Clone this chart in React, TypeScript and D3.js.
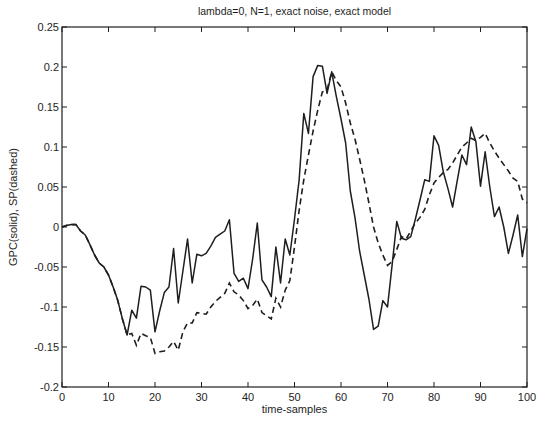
import React, { useEffect, useRef } from "react";
import * as d3 from "d3";

const TITLE = "lambda=0, N=1, exact noise, exact model";
const X_LABEL = "time-samples";
const Y_LABEL = "GPC(solid), SP(dashed)";
const X_TICKS = [0, 10, 20, 30, 40, 50, 60, 70, 80, 90, 100];
const Y_TICKS = [-0.2, -0.15, -0.1, -0.05, 0, 0.05, 0.1, 0.15, 0.2, 0.25];

// GPC output, samples 0..100
const gpc = [
  0.0, 0.002, 0.003, 0.003, -0.005, -0.01, -0.022, -0.035, -0.045, -0.05,
  -0.06, -0.075, -0.092, -0.115, -0.135, -0.104, -0.114, -0.074, -0.075, -0.079,
  -0.131, -0.105, -0.082, -0.075, -0.027, -0.095, -0.055, -0.015, -0.07, -0.034,
  -0.036, -0.033, -0.024, -0.013, -0.009, -0.005, 0.009, -0.058, -0.068, -0.064,
  -0.077, -0.04, 0.005, -0.066, -0.075, -0.087, -0.025, -0.07, -0.015, -0.035,
  0.01, 0.059, 0.142, 0.117, 0.188, 0.202, 0.201, 0.167, 0.194, 0.163,
  0.135, 0.105, 0.045, 0.012, -0.03, -0.06, -0.09, -0.128, -0.124, -0.092,
  -0.1, -0.047, 0.007, -0.014, -0.016, -0.012, 0.01, 0.034, 0.059, 0.057,
  0.114, 0.102, 0.069, 0.048, 0.025, 0.058, 0.09, 0.078, 0.125, 0.107,
  0.051, 0.094, 0.05, 0.013, 0.025, 0.0, -0.033, -0.01, 0.015, -0.037,
  -0.002,
];

// SP output, samples 0..100
const sp = [
  0.0, 0.002, 0.003, 0.003, -0.005, -0.01, -0.022, -0.035, -0.045, -0.05,
  -0.06, -0.075, -0.092, -0.115, -0.135, -0.133, -0.148, -0.133, -0.136, -0.138,
  -0.158, -0.156, -0.155, -0.15, -0.143, -0.154, -0.131, -0.12, -0.12, -0.107,
  -0.108, -0.109, -0.1, -0.093, -0.088, -0.083, -0.07, -0.081, -0.085, -0.092,
  -0.102, -0.098, -0.09, -0.107, -0.111, -0.115, -0.089, -0.1, -0.079, -0.067,
  -0.025, 0.021, 0.059, 0.09, 0.12, 0.146, 0.169, 0.171, 0.194, 0.183,
  0.175, 0.155, 0.13, 0.11, 0.085, 0.059, 0.03, 0.0, -0.02, -0.035,
  -0.048, -0.043, -0.028, -0.012, -0.015, -0.005, 0.005, 0.012, 0.022, 0.04,
  0.055, 0.062, 0.068, 0.072, 0.08, 0.09, 0.1, 0.105, 0.111, 0.108,
  0.112, 0.117, 0.105, 0.095, 0.086, 0.078, 0.07, 0.061, 0.057, 0.035,
  0.03,
];

const W = 540;
const H = 421;
const M = { left: 62, right: 13, top: 27, bottom: 34 };
const INK = "#1e1e1e";
const FONT = "'Liberation Sans', Arial, Helvetica, sans-serif";

export default function App() {
  const ref = useRef<SVGSVGElement | null>(null);

  useEffect(() => {
    const svg = d3.select(ref.current);
    svg.selectAll("*").remove();

    const x = d3.scaleLinear().domain([0, 100]).range([M.left, W - M.right]);
    const y = d3.scaleLinear().domain([-0.2, 0.25]).range([H - M.bottom, M.top]);

    svg.append("rect").attr("width", W).attr("height", H).attr("fill", "#fff");

    const g = svg.append("g");

    // frame
    g.append("rect")
      .attr("x", x(0))
      .attr("y", y(0.25))
      .attr("width", x(100) - x(0))
      .attr("height", y(-0.2) - y(0.25))
      .attr("fill", "none")
      .attr("stroke", INK)
      .attr("stroke-width", 1.2);

    const tl = 5;
    // x ticks (bottom & top, inward)
    X_TICKS.forEach((t) => {
      g.append("line")
        .attr("x1", x(t)).attr("x2", x(t))
        .attr("y1", y(-0.2)).attr("y2", y(-0.2) - tl)
        .attr("stroke", INK).attr("stroke-width", 1);
      g.append("line")
        .attr("x1", x(t)).attr("x2", x(t))
        .attr("y1", y(0.25)).attr("y2", y(0.25) + tl)
        .attr("stroke", INK).attr("stroke-width", 1);
      g.append("text")
        .attr("x", x(t))
        .attr("y", y(-0.2) + 14)
        .attr("text-anchor", "middle")
        .attr("font-family", FONT)
        .attr("font-size", 11)
        .attr("fill", INK)
        .text(String(t));
    });

    // y ticks (left & right, inward)
    Y_TICKS.forEach((v) => {
      g.append("line")
        .attr("x1", x(0)).attr("x2", x(0) + tl)
        .attr("y1", y(v)).attr("y2", y(v))
        .attr("stroke", INK).attr("stroke-width", 1);
      g.append("line")
        .attr("x1", x(100)).attr("x2", x(100) - tl)
        .attr("y1", y(v)).attr("y2", y(v))
        .attr("stroke", INK).attr("stroke-width", 1);
      const lab = d3.format("")(+v.toFixed(2));
      g.append("text")
        .attr("x", x(0) - 3)
        .attr("y", y(v) + 4)
        .attr("text-anchor", "end")
        .attr("font-family", FONT)
        .attr("font-size", 11)
        .attr("fill", INK)
        .text(lab.replace("−", "-"));
    });

    const line = d3
      .line<number>()
      .x((_, i) => x(i))
      .y((d) => y(d));

    g.append("path")
      .datum(sp)
      .attr("d", line)
      .attr("fill", "none")
      .attr("stroke", INK)
      .attr("stroke-width", 1.6)
      .attr("stroke-dasharray", "6,4");

    g.append("path")
      .datum(gpc)
      .attr("d", line)
      .attr("fill", "none")
      .attr("stroke", INK)
      .attr("stroke-width", 1.5)
      .attr("stroke-linejoin", "round");

    // title
    svg.append("text")
      .attr("x", (x(0) + x(100)) / 2)
      .attr("y", 15)
      .attr("text-anchor", "middle")
      .attr("font-family", FONT)
      .attr("font-size", 10.5)
      .attr("fill", INK)
      .text(TITLE);

    // x label
    svg.append("text")
      .attr("x", (x(0) + x(100)) / 2)
      .attr("y", y(-0.2) + 26)
      .attr("text-anchor", "middle")
      .attr("font-family", FONT)
      .attr("font-size", 11)
      .attr("fill", INK)
      .text(X_LABEL);

    // y label
    svg.append("text")
      .attr("transform", `translate(17,${(y(-0.2) + y(0.25)) / 2}) rotate(-90)`)
      .attr("text-anchor", "middle")
      .attr("font-family", FONT)
      .attr("font-size", 11)
      .attr("fill", INK)
      .text(Y_LABEL);
  }, []);

  return (
    <svg
      ref={ref}
      width={W}
      height={H}
      style={{ position: "absolute", left: 0, top: 0, display: "block" }}
    />
  );
}
